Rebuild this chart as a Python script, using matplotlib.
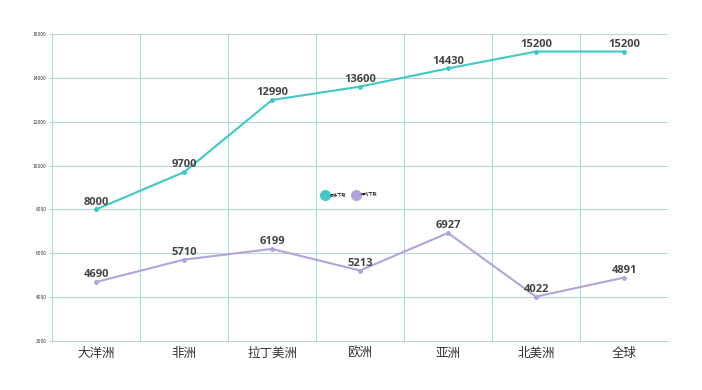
import matplotlib
matplotlib.use("Agg")
import matplotlib.pyplot as plt
from matplotlib.lines import Line2D

plt.rcParams['font.family'] = ['Noto Sans CJK SC', 'DejaVu Sans']

categories = ["大洋洲", "非洲", "拉丁美洲", "欧洲", "亚洲", "北美洲", "全球"]
max_vals = [8000, 9700, 12990, 13600, 14430, 15200, 15200]
avg_vals = [4690, 5710, 6199, 5213, 6927, 4022, 4891]
series_names = ["最多下载", "平均下载"]
yticks = [2000, 4000, 6000, 8000, 10000, 12000, 14000, 16000]

c1 = "#3ec9c6"
c2 = "#b3a3dc"
grid_c = "#b7d6d6"

fig = plt.figure(figsize=(7.02, 3.9), dpi=100)
ax = fig.add_axes([52/702, 1-341/390, (668-52)/702, (341-34)/390])

x = list(range(len(categories)))
ax.plot(x, max_vals, color=c1, lw=1.5, marker='o', ms=2.5, zorder=3)
ax.plot(x, avg_vals, color=c2, lw=1.5, marker='o', ms=2.5, zorder=3)
for vals in (max_vals, avg_vals):
    for xi, v in zip(x, vals):
        ax.annotate(str(v), (xi, v), xytext=(0, 3.5), textcoords='offset points',
                    ha='center', va='baseline', fontsize=8, fontweight='bold',
                    color='#444444', family=['Open Sans', 'DejaVu Sans'])

ax.set_xlim(-0.5, len(categories) - 0.5)
ax.set_ylim(2000, 16000)
ax.set_yticks(yticks)
ax.set_yticklabels([str(t) for t in yticks], fontsize=3.5, color='#333333')
ax.set_xticks(x)
ax.set_xticklabels(categories, fontsize=9, color='#333333')
for b in [i - 0.5 for i in range(1, len(categories))]:
    ax.axvline(b, color=grid_c, lw=0.8, zorder=1)
for t in yticks[1:]:
    ax.axhline(t, color=grid_c, lw=0.8, zorder=1)
for s in ['top', 'right']:
    ax.spines[s].set_visible(False)
ax.spines['left'].set_color(grid_c)
ax.spines['bottom'].set_color(grid_c)
ax.tick_params(axis='x', length=0, pad=4)
ax.tick_params(axis='y', length=2, color=grid_c, pad=2)

handles = [Line2D([], [], ls='', marker='o', ms=7, color=c1),
           Line2D([], [], ls='', marker='o', ms=7, color=c2)]
ax.legend(handles, series_names, loc='center', bbox_to_anchor=((349-52)/616, (341-195)/307),
          ncol=2, frameon=False, fontsize=3, handletextpad=0.3, columnspacing=1.2)

fig.savefig("out.png", dpi=100)
